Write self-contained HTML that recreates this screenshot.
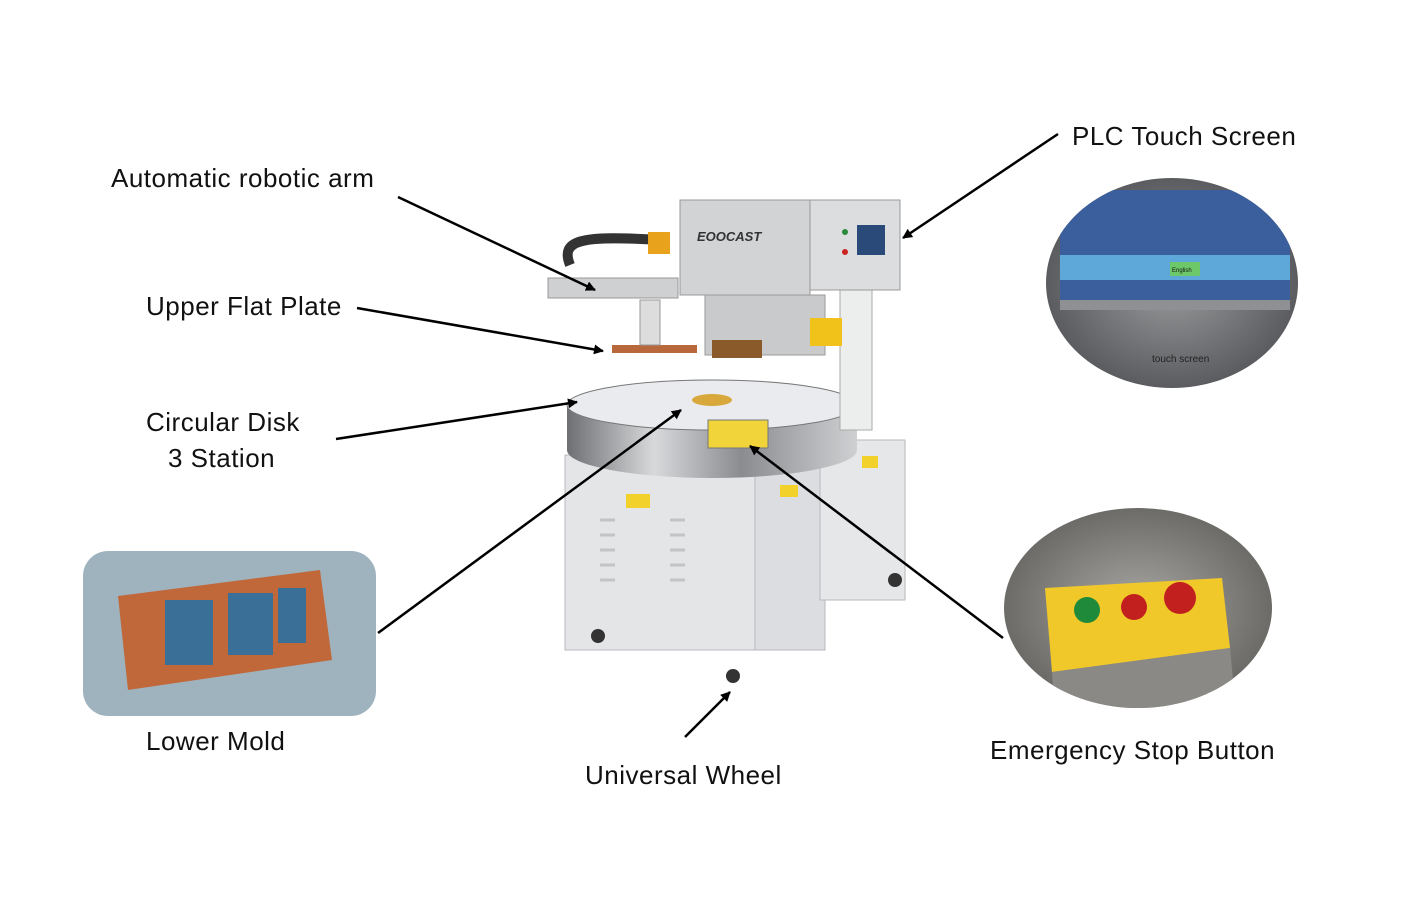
<!DOCTYPE html>
<html><head><meta charset="utf-8"><style>
html,body{margin:0;padding:0;background:#fff;}
svg{display:block}
text{font-family:"Liberation Sans",sans-serif;font-size:26px;letter-spacing:0.5px;fill:#111}
</style></head><body>
<svg width="1428" height="899" viewBox="0 0 1428 899" xmlns="http://www.w3.org/2000/svg">
<defs>
<marker id="a" markerWidth="10" markerHeight="10" refX="9" refY="5" orient="auto" markerUnits="userSpaceOnUse" viewBox="0 0 10 10">
<path d="M0,0 L10,5 L0,10 z" fill="#000"/></marker>
<linearGradient id="steel" x1="0" x2="1"><stop offset="0" stop-color="#6d6f72"/><stop offset=".3" stop-color="#d8d9db"/><stop offset=".6" stop-color="#8a8c90"/><stop offset="1" stop-color="#cfd0d2"/></linearGradient>
<radialGradient id="g1"><stop offset="0" stop-color="#9a9b9d"/><stop offset="1" stop-color="#5b5c5f"/></radialGradient>
<radialGradient id="g2"><stop offset="0" stop-color="#a8a7a3"/><stop offset="1" stop-color="#6c6b68"/></radialGradient>
<clipPath id="c1"><ellipse cx="1172" cy="283" rx="126" ry="105"/></clipPath>
<clipPath id="c2"><ellipse cx="1138" cy="608" rx="134" ry="100"/></clipPath>
</defs>

<rect x="565" y="455" width="200" height="195" fill="#e4e5e7" stroke="#b8b9bc"/>
<rect x="755" y="465" width="70" height="185" fill="#dcdde0" stroke="#b8b9bc"/>
<rect x="820" y="440" width="85" height="160" fill="#e6e7e9" stroke="#b8b9bc"/>
<g stroke="#c3c4c7" stroke-width="3">
<line x1="600" y1="520" x2="615" y2="520"/><line x1="600" y1="535" x2="615" y2="535"/><line x1="600" y1="550" x2="615" y2="550"/><line x1="600" y1="565" x2="615" y2="565"/><line x1="600" y1="580" x2="615" y2="580"/>
<line x1="670" y1="520" x2="685" y2="520"/><line x1="670" y1="535" x2="685" y2="535"/><line x1="670" y1="550" x2="685" y2="550"/><line x1="670" y1="565" x2="685" y2="565"/><line x1="670" y1="580" x2="685" y2="580"/>
</g>
<rect x="626" y="494" width="24" height="14" fill="#f2d22a"/>
<rect x="780" y="485" width="18" height="12" fill="#f2d22a"/>
<rect x="862" y="456" width="16" height="12" fill="#f2d22a"/>
<circle cx="598" cy="636" r="7" fill="#333"/><circle cx="733" cy="676" r="7" fill="#333"/><circle cx="895" cy="580" r="7" fill="#333"/>
<path d="M567,405 L567,450 A145,28 0 0 0 857,450 L857,405 z" fill="url(#steel)"/>
<ellipse cx="712" cy="405" rx="145" ry="25" fill="#e9ebee" stroke="#777"/>
<ellipse cx="712" cy="400" rx="20" ry="6" fill="#d9a83a"/>
<rect x="708" y="420" width="60" height="28" fill="#f0d43a" stroke="#777"/>
<rect x="840" y="290" width="32" height="140" fill="#eceded" stroke="#aaa"/>
<rect x="680" y="200" width="130" height="95" fill="#d2d3d5" stroke="#999"/>
<text x="697" y="241" style="font-size:13px;letter-spacing:0;font-weight:bold;font-style:italic;fill:#333">EOOCAST</text>
<rect x="810" y="200" width="90" height="90" fill="#dcdddf" stroke="#999"/>
<rect x="857" y="225" width="28" height="30" fill="#2a4a7a"/>
<circle cx="845" cy="232" r="3" fill="#2a8a3a"/><circle cx="845" cy="252" r="3" fill="#c22"/>
<rect x="705" y="295" width="120" height="60" fill="#c9cacc" stroke="#999"/>
<rect x="712" y="340" width="50" height="18" fill="#8b5a2b"/>
<rect x="810" y="318" width="32" height="28" fill="#f0c21a"/>
<rect x="548" y="278" width="130" height="20" fill="#cfd0d2" stroke="#999"/>
<path d="M570,265 C560,240 580,235 660,240" fill="none" stroke="#333" stroke-width="10"/>
<rect x="648" y="232" width="22" height="22" fill="#e8a21c"/>
<rect x="612" y="345" width="85" height="8" fill="#b8683a"/>
<rect x="640" y="300" width="20" height="45" fill="#ddd" stroke="#999"/>

<ellipse cx="1172" cy="283" rx="126" ry="105" fill="url(#g1)"/>
<g clip-path="url(#c1)">
<rect x="1060" y="190" width="230" height="110" fill="#3b5f9c"/>
<rect x="1060" y="255" width="230" height="25" fill="#5da8d8"/>
<rect x="1060" y="300" width="230" height="10" fill="#8e9093"/>
</g>
<rect x="1170" y="262" width="30" height="14" fill="#6dc86a"/>
<text x="1172" y="272" style="font-size:6px;letter-spacing:0;fill:#111">English</text>
<text x="1152" y="362" style="font-size:10px;letter-spacing:0;fill:#222">touch screen</text>

<ellipse cx="1138" cy="608" rx="134" ry="100" fill="url(#g2)"/>
<g clip-path="url(#c2)">
<path d="M1045,588 L1222,578 L1230,648 L1052,672 z" fill="#f0c82a"/>
<path d="M1052,672 L1230,648 L1235,700 L1055,720 z" fill="#8a8985"/>
</g>
<circle cx="1087" cy="610" r="13" fill="#1f8a3a"/>
<circle cx="1134" cy="607" r="13" fill="#c21f1f"/>
<circle cx="1180" cy="598" r="16" fill="#c21f1f"/>

<rect x="83" y="551" width="293" height="165" rx="25" fill="#9fb3bf"/>
<path d="M118,596 L320,570 L332,660 L128,690 z" fill="#c0683a"/>
<rect x="165" y="600" width="48" height="65" fill="#3a6f98"/><rect x="228" y="593" width="45" height="62" fill="#3a6f98"/><rect x="278" y="588" width="28" height="55" fill="#3a6f98"/>

<text x="111" y="187">Automatic robotic arm</text>
<text x="146" y="315">Upper Flat Plate</text>
<text x="146" y="431">Circular Disk</text>
<text x="168" y="467">3 Station</text>
<text x="146" y="750">Lower Mold</text>
<text x="585" y="784">Universal Wheel</text>
<text x="990" y="759">Emergency Stop Button</text>
<text x="1072" y="145">PLC Touch Screen</text>

<g stroke="#000" stroke-width="2.5" fill="none" marker-end="url(#a)">
<line x1="398" y1="197" x2="595" y2="290"/>
<line x1="357" y1="308" x2="603" y2="351"/>
<line x1="336" y1="439" x2="577" y2="402"/>
<line x1="378" y1="633" x2="681" y2="410"/>
<line x1="685" y1="737" x2="730" y2="692"/>
<line x1="1003" y1="638" x2="750" y2="446"/>
<line x1="1058" y1="134" x2="903" y2="238"/>
</g>
</svg>
</body></html>
